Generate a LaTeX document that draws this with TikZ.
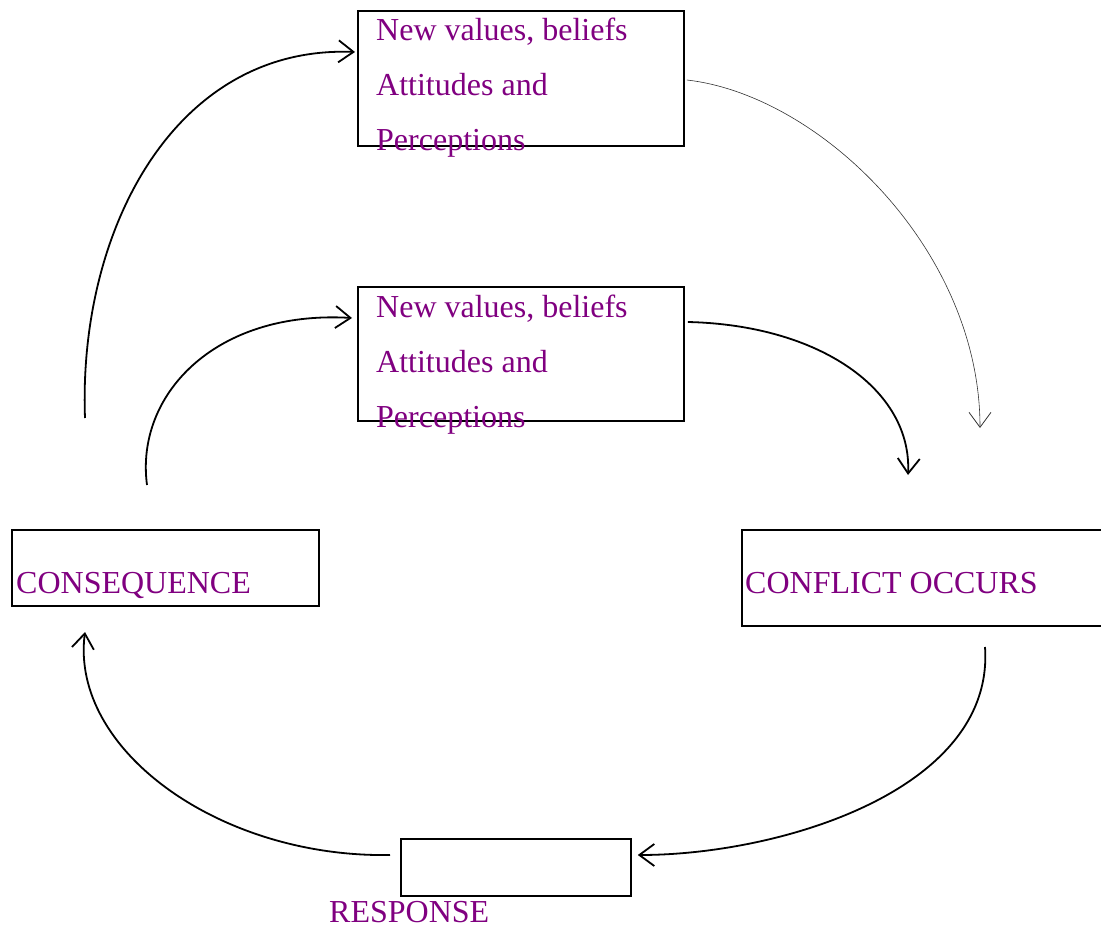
\documentclass[tikz,border=0pt]{standalone}
\usepackage{fontspec}
\setmainfont{Liberation Serif}
\usetikzlibrary{arrows.meta,calc}
\definecolor{txtpurple}{RGB}{128,0,128}
\begin{document}
\begin{tikzpicture}[x=1pt,y=-1pt,
  box/.style={draw=black,line width=1.8pt,anchor=north west,inner sep=0pt},
  lbl/.style={text=txtpurple,anchor=base west,inner sep=0pt,font=\fontsize{32}{38}\selectfont},
  conn/.style={line width=1.8pt,-{Straight Barb[length=15pt,width=22pt,line width=1.8pt]}},
  thinconn/.style={line width=0.6pt,draw=black!80,-{Straight Barb[length=15pt,width=22pt,line width=0.8pt]}}]
\useasboundingbox (0,0) rectangle (1101,928);
% boxes
\node[box,minimum width=326pt,minimum height=135pt] (top) at (357,10) {};
\node[box,minimum width=326pt,minimum height=134pt] (mid) at (357,286) {};
\node[box,minimum width=307pt,minimum height=76pt] (cons) at (11,529) {};
\node[box,minimum width=362pt,minimum height=96pt] (conf) at (741,529) {};
\node[box,minimum width=230pt,minimum height=57pt] (resp) at (400,838) {};
% texts
\node[lbl] (t1) at (376,41) {New values, beliefs};
\node[lbl] (t2) at (376,96) {Attitudes and};
\node[lbl] (t3) at (376,151) {Perceptions};
\node[lbl] (m1) at (376,317) {New values, beliefs};
\node[lbl] (m2) at (376,372) {Attitudes and};
\node[lbl] (m3) at (376,427) {Perceptions};
\node[lbl] (consl) at (16,593) {CONSEQUENCE};
\node[lbl] (confl) at (745,593) {CONFLICT OCCURS};
\node[lbl] (respl) at (329,922) {RESPONSE};
% connector end points
\coordinate (a1s) at (85,418);
\coordinate (a1e) at ($(top.north west)+(-2,42)$);
\coordinate (a2s) at (147,485);
\coordinate (a2e) at ($(mid.north west)+(-5,32)$);
\coordinate (a3s) at ($(top.north east)+(2,70)$);
\coordinate (a3e) at (980,428);
\coordinate (a4s) at ($(mid.north east)+(3,36)$);
\coordinate (a4e) at (908,475);
\coordinate (a5s) at (985,647);
\coordinate (a5e) at ($(resp.north east)+(6,17)$);
\coordinate (a6s) at ($(resp.north west)+(-10,17)$);
\coordinate (a6e) at (85,632);
% connectors
\draw[conn] (a1s) .. controls (78,230) and (175,45) .. (a1e);
\draw[conn] (a2s) .. controls (135,395) and (215,310) .. (a2e);
\draw[thinconn] (a3s) .. controls (820,95) and (980,250) .. (a3e);
\draw[conn] (a4s) .. controls (820,325) and (912,390) .. (a4e);
\draw[conn] (a5s) .. controls (995,790) and (780,855) .. (a5e);
\draw[conn] (a6s) .. controls (220,858) and (70,750) .. (a6e);
\end{tikzpicture}
\end{document}
